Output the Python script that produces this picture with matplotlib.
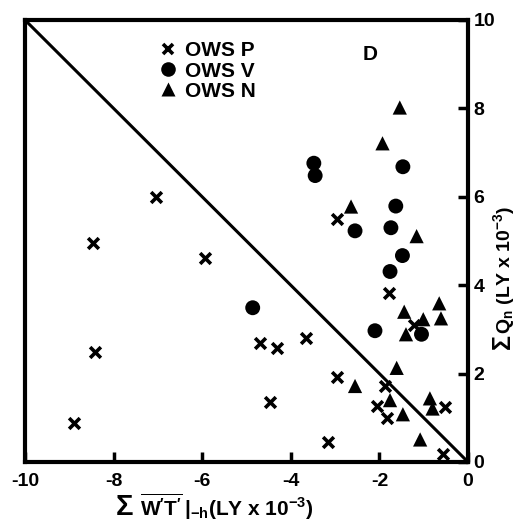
import matplotlib
matplotlib.use('Agg')
import matplotlib.pyplot as plt
from matplotlib.lines import Line2D

plt.rcParams['font.family'] = ['Liberation Sans', 'DejaVu Sans']
plt.rcParams['font.weight'] = 'bold'
plt.rcParams['mathtext.fontset'] = 'custom'
plt.rcParams['mathtext.rm'] = 'Liberation Sans:bold'
plt.rcParams['mathtext.it'] = 'Liberation Sans:bold'
plt.rcParams['mathtext.bf'] = 'Liberation Sans:bold'
plt.rcParams['mathtext.sf'] = 'Liberation Sans:bold'
plt.rcParams['axes.unicode_minus'] = False

# OWS P (crosses)
p_x = [-7.05, -8.47, -5.94, -8.42, -8.89, -4.70, -4.32, -3.66, -4.47, -2.95,
       -1.87, -2.06, -1.82, -3.15, -0.52, -0.57, -1.21, -2.96, -1.78]
p_y = [6.00, 4.96, 4.61, 2.50, 0.88, 2.69, 2.59, 2.80, 1.36, 1.92,
       1.72, 1.27, 0.99, 0.46, 1.25, 0.18, 3.10, 5.49, 3.82]
# OWS V (circles)
v_x = [-3.48, -3.45, -1.47, -1.63, -2.55, -1.74, -1.48, -1.76, -2.10, -1.05, -4.86]
v_y = [6.76, 6.48, 6.68, 5.79, 5.23, 5.30, 4.67, 4.31, 2.97, 2.89, 3.49]
# OWS N (triangles)
n_x = [-1.54, -1.93, -2.64, -1.16, -0.65, -1.44, -1.01, -0.61, -1.40, -1.61,
       -2.55, -1.76, -1.47, -0.86, -0.80, -1.08]
n_y = [8.02, 7.21, 5.78, 5.11, 3.59, 3.40, 3.23, 3.25, 2.89, 2.13,
       1.72, 1.40, 1.08, 1.44, 1.21, 0.51]

line_x = [-10, 0]
line_y = [10, 0]

x_ticks = [-10, -8, -6, -4, -2, 0]
y_ticks = [0, 2, 4, 6, 8, 10]

fig = plt.figure(figsize=(5.2, 5.22), dpi=100)
ax = fig.add_axes([25/520, 60/522, 443/520, 442/522])
ax.set_xlim(-10, 0)
ax.set_ylim(0, 10)

ax.plot(line_x, line_y, color='black', lw=2.2, zorder=2)
ax.scatter(p_x, p_y, marker='x', s=60, linewidths=2.6, color='black', zorder=3)
ax.scatter(v_x, v_y, marker='o', s=115, color='black', edgecolors='none', zorder=3)
ax.scatter(n_x, n_y, marker='^', s=105, color='black', edgecolors='none', zorder=3)

for sp in ax.spines.values():
    sp.set_linewidth(3)

ax.set_xticks(x_ticks)
ax.set_xticklabels([str(t) for t in x_ticks])
ax.set_yticks(y_ticks)
ax.set_yticklabels([str(t) for t in y_ticks])
ax.yaxis.tick_right()
ax.tick_params(axis='x', direction='in', length=7, width=2.5, labelsize=14, pad=8)
ax.tick_params(axis='y', direction='in', length=7, width=2.5, labelsize=14, pad=4,
               left=False, right=True, labelleft=False, labelright=True)
for lab in ax.get_xticklabels() + ax.get_yticklabels():
    lab.set_fontweight('bold')

handles = [
    Line2D([], [], marker='x', ls='none', color='black', ms=7.5, mew=2.6),
    Line2D([], [], marker='o', ls='none', color='black', ms=10.5, mec='none'),
    Line2D([], [], marker='^', ls='none', color='black', ms=10.5, mec='none'),
]
leg = ax.legend(handles, ['OWS P', 'OWS V', 'OWS N'], loc='upper left',
                bbox_to_anchor=(0.275, 0.975), frameon=False, handlelength=1.0,
                handletextpad=0.35, labelspacing=0.05, borderpad=0,
                prop={'size': 15, 'weight': 'bold'})

ax.text(0.779, 0.921, 'D', transform=ax.transAxes, ha='center', va='center',
        fontsize=15, fontweight='bold')

# x-axis label
fig.text(124/520, 1 - 507/522, r'$\Sigma$', ha='center', va='center',
         fontsize=21, fontweight='bold')
fig.text(140/520, 1 - 507/522,
         r'$\overline{\mathrm{W^{\prime}T^{\prime}}}\,|_{-h}$(LY x 10$^{-3}$)',
         ha='left', va='center', fontsize=15, fontweight='bold')
# y-axis label
fig.text(504/520, 1 - 343/522, r'$\Sigma$', ha='center', va='center',
         rotation=90, fontsize=18, fontweight='bold')
fig.text(504/520, 1 - 334/522, r'$\mathrm{Q_n}$ (LY x 10$^{-3}$)',
         ha='center', va='bottom', rotation=90, fontsize=14, fontweight='bold')

fig.savefig('out.png', dpi=100)
